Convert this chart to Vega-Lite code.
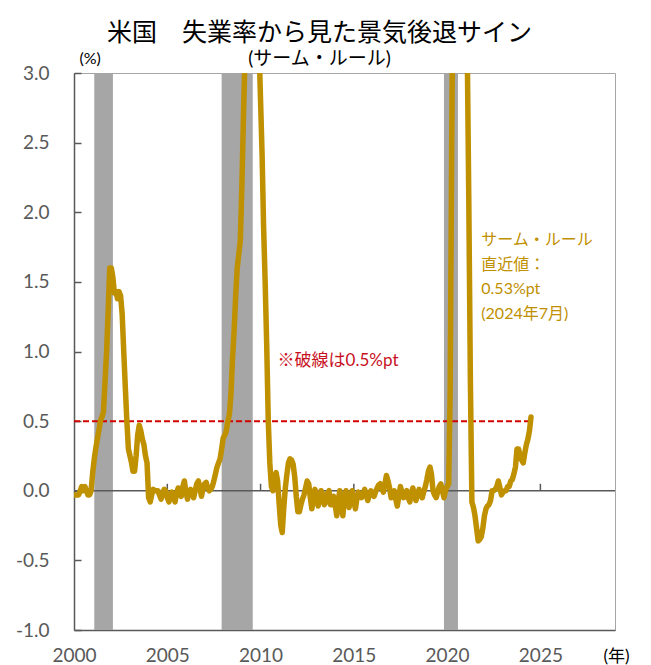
{
  "$schema": "https://vega.github.io/schema/vega-lite/v6.json",
  "autosize": {"type": "none"},
  "padding": {"left": 74, "top": 73, "right": 36, "bottom": 35},
  "width": 541,
  "height": 557,
  "background": "#ffffff",
  "config": {
    "view": {"stroke": "#a6a6a6", "strokeWidth": 1},
    "font": "Lato, Noto Sans CJK JP",
    "axis": {"grid": false, "domainColor": "#595959", "domainWidth": 1.5, "tickColor": "#595959", "labelColor": "#595959", "labelFont": "Lato, Noto Sans CJK JP", "labelFontSize": 19, "titleFont": "Lato, Noto Sans CJK JP", "titleFontWeight": "normal", "titleColor": "#000000"}
  },
  "title": {
    "text": "米国　失業率から見た景気後退サイン",
    "subtitle": "(サーム・ルール)",
    "anchor": "middle",
    "frame": "group",
    "dx": -25,
    "offset": -19,
    "font": "Noto Sans CJK JP",
    "fontSize": 25,
    "fontWeight": "normal",
    "color": "#000000",
    "subtitleFont": "Lato, Noto Sans CJK JP",
    "subtitleFontSize": 19,
    "subtitleColor": "#000000",
    "subtitlePadding": 4
  },
  "datasets": {
    "recessions": [
      {"start": "2001-02", "end": "2002-02"},
      {"start": "2007-12", "end": "2009-08"},
      {"start": "2019-11", "end": "2020-08"}
    ],
    "tickYears": [
      {"year": "2005-01"}, {"year": "2010-01"}, {"year": "2015-01"}, {"year": "2020-01"}, {"year": "2025-01"}
    ],
    "sahm": [
      {"m": "2000-01", "v": -0.03}, {"m": "2000-02", "v": -0.03}, {"m": "2000-03", "v": -0.03}, {"m": "2000-04", "v": -0.03},
      {"m": "2000-05", "v": 0.0}, {"m": "2000-06", "v": 0.03}, {"m": "2000-07", "v": 0.0}, {"m": "2000-08", "v": 0.03},
      {"m": "2000-09", "v": 0.0}, {"m": "2000-10", "v": -0.03}, {"m": "2000-11", "v": -0.03}, {"m": "2000-12", "v": 0.0},
      {"m": "2001-01", "v": 0.13}, {"m": "2001-02", "v": 0.23}, {"m": "2001-03", "v": 0.3}, {"m": "2001-04", "v": 0.37},
      {"m": "2001-05", "v": 0.43}, {"m": "2001-06", "v": 0.5}, {"m": "2001-07", "v": 0.53}, {"m": "2001-08", "v": 0.57},
      {"m": "2001-09", "v": 0.8}, {"m": "2001-10", "v": 1.0}, {"m": "2001-11", "v": 1.3}, {"m": "2001-12", "v": 1.6},
      {"m": "2002-01", "v": 1.6}, {"m": "2002-02", "v": 1.53}, {"m": "2002-03", "v": 1.42}, {"m": "2002-04", "v": 1.43},
      {"m": "2002-05", "v": 1.38}, {"m": "2002-06", "v": 1.43}, {"m": "2002-07", "v": 1.4}, {"m": "2002-08", "v": 1.27},
      {"m": "2002-09", "v": 1.0}, {"m": "2002-10", "v": 0.75}, {"m": "2002-11", "v": 0.5}, {"m": "2002-12", "v": 0.3},
      {"m": "2003-01", "v": 0.25}, {"m": "2003-02", "v": 0.2}, {"m": "2003-03", "v": 0.14}, {"m": "2003-04", "v": 0.14},
      {"m": "2003-05", "v": 0.25}, {"m": "2003-06", "v": 0.4}, {"m": "2003-07", "v": 0.47}, {"m": "2003-08", "v": 0.43},
      {"m": "2003-09", "v": 0.37}, {"m": "2003-10", "v": 0.33}, {"m": "2003-11", "v": 0.25}, {"m": "2003-12", "v": 0.2},
      {"m": "2004-01", "v": -0.05}, {"m": "2004-02", "v": -0.08}, {"m": "2004-03", "v": -0.03}, {"m": "2004-04", "v": 0.01},
      {"m": "2004-05", "v": 0.0}, {"m": "2004-06", "v": 0.0}, {"m": "2004-07", "v": 0.0}, {"m": "2004-08", "v": -0.03},
      {"m": "2004-09", "v": -0.06}, {"m": "2004-10", "v": -0.02}, {"m": "2004-11", "v": 0.01}, {"m": "2004-12", "v": 0.0},
      {"m": "2005-01", "v": -0.05}, {"m": "2005-02", "v": -0.08}, {"m": "2005-03", "v": -0.03}, {"m": "2005-04", "v": -0.01},
      {"m": "2005-05", "v": -0.05}, {"m": "2005-06", "v": -0.08}, {"m": "2005-07", "v": -0.02}, {"m": "2005-08", "v": 0.02},
      {"m": "2005-09", "v": -0.02}, {"m": "2005-10", "v": -0.04}, {"m": "2005-11", "v": 0.03}, {"m": "2005-12", "v": 0.07},
      {"m": "2006-01", "v": -0.01}, {"m": "2006-02", "v": -0.06}, {"m": "2006-03", "v": -0.01}, {"m": "2006-04", "v": 0.01},
      {"m": "2006-05", "v": -0.02}, {"m": "2006-06", "v": -0.05}, {"m": "2006-07", "v": 0.0}, {"m": "2006-08", "v": 0.05},
      {"m": "2006-09", "v": 0.07}, {"m": "2006-10", "v": 0.02}, {"m": "2006-11", "v": -0.04}, {"m": "2006-12", "v": 0.02},
      {"m": "2007-01", "v": 0.05}, {"m": "2007-02", "v": 0.06}, {"m": "2007-03", "v": 0.02}, {"m": "2007-04", "v": 0.0},
      {"m": "2007-05", "v": 0.01}, {"m": "2007-06", "v": 0.03}, {"m": "2007-07", "v": 0.07}, {"m": "2007-08", "v": 0.12},
      {"m": "2007-09", "v": 0.17}, {"m": "2007-10", "v": 0.2}, {"m": "2007-11", "v": 0.23}, {"m": "2007-12", "v": 0.3},
      {"m": "2008-01", "v": 0.38}, {"m": "2008-02", "v": 0.4}, {"m": "2008-03", "v": 0.43}, {"m": "2008-04", "v": 0.5},
      {"m": "2008-05", "v": 0.55}, {"m": "2008-06", "v": 0.7}, {"m": "2008-07", "v": 0.95}, {"m": "2008-08", "v": 1.15},
      {"m": "2008-09", "v": 1.4}, {"m": "2008-10", "v": 1.6}, {"m": "2008-11", "v": 1.7}, {"m": "2008-12", "v": 1.8},
      {"m": "2009-01", "v": 2.2}, {"m": "2009-02", "v": 2.7}, {"m": "2009-03", "v": 3.1}, {"m": "2009-04", "v": 3.4},
      {"m": "2009-05", "v": 3.7}, {"m": "2009-06", "v": 3.9}, {"m": "2009-07", "v": 4.0}, {"m": "2009-08", "v": 4.1},
      {"m": "2009-09", "v": 4.1}, {"m": "2009-10", "v": 3.9}, {"m": "2009-11", "v": 3.5}, {"m": "2009-12", "v": 3.2},
      {"m": "2010-01", "v": 2.8}, {"m": "2010-02", "v": 2.4}, {"m": "2010-03", "v": 1.9}, {"m": "2010-04", "v": 1.5},
      {"m": "2010-05", "v": 1.05}, {"m": "2010-06", "v": 0.5}, {"m": "2010-07", "v": 0.2}, {"m": "2010-08", "v": 0.03},
      {"m": "2010-09", "v": 0.0}, {"m": "2010-10", "v": 0.1}, {"m": "2010-11", "v": 0.13}, {"m": "2010-12", "v": 0.07},
      {"m": "2011-01", "v": -0.1}, {"m": "2011-02", "v": -0.25}, {"m": "2011-03", "v": -0.3}, {"m": "2011-04", "v": -0.12},
      {"m": "2011-05", "v": 0.02}, {"m": "2011-06", "v": 0.12}, {"m": "2011-07", "v": 0.2}, {"m": "2011-08", "v": 0.23},
      {"m": "2011-09", "v": 0.22}, {"m": "2011-10", "v": 0.19}, {"m": "2011-11", "v": 0.1}, {"m": "2011-12", "v": -0.04},
      {"m": "2012-01", "v": -0.15}, {"m": "2012-02", "v": -0.15}, {"m": "2012-03", "v": -0.1}, {"m": "2012-04", "v": -0.06},
      {"m": "2012-05", "v": -0.03}, {"m": "2012-06", "v": 0.02}, {"m": "2012-07", "v": 0.07}, {"m": "2012-08", "v": 0.05},
      {"m": "2012-09", "v": -0.05}, {"m": "2012-10", "v": -0.13}, {"m": "2012-11", "v": -0.05}, {"m": "2012-12", "v": 0.01},
      {"m": "2013-01", "v": -0.05}, {"m": "2013-02", "v": -0.11}, {"m": "2013-03", "v": -0.06}, {"m": "2013-04", "v": 0.0},
      {"m": "2013-05", "v": -0.03}, {"m": "2013-06", "v": -0.1}, {"m": "2013-07", "v": -0.08}, {"m": "2013-08", "v": -0.02},
      {"m": "2013-09", "v": 0.0}, {"m": "2013-10", "v": -0.1}, {"m": "2013-11", "v": -0.1}, {"m": "2013-12", "v": -0.04},
      {"m": "2014-01", "v": -0.1}, {"m": "2014-02", "v": -0.18}, {"m": "2014-03", "v": -0.08}, {"m": "2014-04", "v": 0.0},
      {"m": "2014-05", "v": -0.1}, {"m": "2014-06", "v": -0.18}, {"m": "2014-07", "v": -0.05}, {"m": "2014-08", "v": 0.0},
      {"m": "2014-09", "v": -0.09}, {"m": "2014-10", "v": -0.12}, {"m": "2014-11", "v": -0.04}, {"m": "2014-12", "v": 0.0},
      {"m": "2015-01", "v": -0.07}, {"m": "2015-02", "v": -0.13}, {"m": "2015-03", "v": -0.06}, {"m": "2015-04", "v": -0.01},
      {"m": "2015-05", "v": -0.03}, {"m": "2015-06", "v": -0.05}, {"m": "2015-07", "v": -0.02}, {"m": "2015-08", "v": 0.01},
      {"m": "2015-09", "v": -0.03}, {"m": "2015-10", "v": -0.07}, {"m": "2015-11", "v": -0.03}, {"m": "2015-12", "v": 0.0},
      {"m": "2016-01", "v": -0.02}, {"m": "2016-02", "v": -0.04}, {"m": "2016-03", "v": -0.01}, {"m": "2016-04", "v": 0.02},
      {"m": "2016-05", "v": 0.04}, {"m": "2016-06", "v": 0.05}, {"m": "2016-07", "v": 0.02}, {"m": "2016-08", "v": -0.01},
      {"m": "2016-09", "v": 0.05}, {"m": "2016-10", "v": 0.11}, {"m": "2016-11", "v": 0.07}, {"m": "2016-12", "v": 0.02},
      {"m": "2017-01", "v": -0.05}, {"m": "2017-02", "v": -0.02}, {"m": "2017-03", "v": 0.0}, {"m": "2017-04", "v": -0.06},
      {"m": "2017-05", "v": -0.11}, {"m": "2017-06", "v": -0.04}, {"m": "2017-07", "v": 0.03}, {"m": "2017-08", "v": -0.01},
      {"m": "2017-09", "v": -0.05}, {"m": "2017-10", "v": -0.02}, {"m": "2017-11", "v": 0.0}, {"m": "2017-12", "v": -0.05},
      {"m": "2018-01", "v": -0.08}, {"m": "2018-02", "v": -0.02}, {"m": "2018-03", "v": 0.02}, {"m": "2018-04", "v": -0.03},
      {"m": "2018-05", "v": -0.07}, {"m": "2018-06", "v": -0.03}, {"m": "2018-07", "v": 0.01}, {"m": "2018-08", "v": -0.02},
      {"m": "2018-09", "v": -0.05}, {"m": "2018-10", "v": -0.01}, {"m": "2018-11", "v": 0.03}, {"m": "2018-12", "v": 0.08},
      {"m": "2019-01", "v": 0.14}, {"m": "2019-02", "v": 0.17}, {"m": "2019-03", "v": 0.12}, {"m": "2019-04", "v": 0.0},
      {"m": "2019-05", "v": -0.03}, {"m": "2019-06", "v": -0.05}, {"m": "2019-07", "v": -0.01}, {"m": "2019-08", "v": 0.03},
      {"m": "2019-09", "v": 0.05}, {"m": "2019-10", "v": 0.0}, {"m": "2019-11", "v": -0.05}, {"m": "2019-12", "v": 0.0},
      {"m": "2020-01", "v": 0.03}, {"m": "2020-02", "v": 0.05}, {"m": "2020-03", "v": 0.7}, {"m": "2020-04", "v": 2.5},
      {"m": "2020-05", "v": 4.0}, {"m": "2020-06", "v": 6.0}, {"m": "2020-07", "v": 7.5}, {"m": "2020-08", "v": 8.5},
      {"m": "2020-09", "v": 9.0}, {"m": "2020-10", "v": 8.5}, {"m": "2020-11", "v": 7.5}, {"m": "2020-12", "v": 6.0},
      {"m": "2021-01", "v": 4.5}, {"m": "2021-02", "v": 3.1}, {"m": "2021-03", "v": 2.1}, {"m": "2021-04", "v": 0.8},
      {"m": "2021-05", "v": -0.08}, {"m": "2021-06", "v": -0.12}, {"m": "2021-07", "v": -0.18}, {"m": "2021-08", "v": -0.27},
      {"m": "2021-09", "v": -0.36}, {"m": "2021-10", "v": -0.35}, {"m": "2021-11", "v": -0.33}, {"m": "2021-12", "v": -0.27},
      {"m": "2022-01", "v": -0.18}, {"m": "2022-02", "v": -0.13}, {"m": "2022-03", "v": -0.11}, {"m": "2022-04", "v": -0.1},
      {"m": "2022-05", "v": -0.07}, {"m": "2022-06", "v": 0.0}, {"m": "2022-07", "v": 0.0}, {"m": "2022-08", "v": 0.01},
      {"m": "2022-09", "v": 0.03}, {"m": "2022-10", "v": 0.07}, {"m": "2022-11", "v": 0.02}, {"m": "2022-12", "v": -0.03},
      {"m": "2023-01", "v": -0.01}, {"m": "2023-02", "v": 0.0}, {"m": "2023-03", "v": 0.0}, {"m": "2023-04", "v": 0.03},
      {"m": "2023-05", "v": 0.03}, {"m": "2023-06", "v": 0.07}, {"m": "2023-07", "v": 0.08}, {"m": "2023-08", "v": 0.12},
      {"m": "2023-09", "v": 0.17}, {"m": "2023-10", "v": 0.3}, {"m": "2023-11", "v": 0.3}, {"m": "2023-12", "v": 0.25},
      {"m": "2024-01", "v": 0.22}, {"m": "2024-02", "v": 0.2}, {"m": "2024-03", "v": 0.27}, {"m": "2024-04", "v": 0.33},
      {"m": "2024-05", "v": 0.37}, {"m": "2024-06", "v": 0.43}, {"m": "2024-07", "v": 0.53}
    ]
  },
  "encoding": {
    "x": {
      "type": "temporal",
      "scale": {"type": "utc", "domain": [{"year": 2000, "utc": true}, {"year": 2029, "utc": true}]},
      "axis": {
        "title": "(年)",
        "titleFontSize": 17,
        "titleAnchor": "start",
        "titleAlign": "left",
        "titleBaseline": "middle",
        "titleX": 529,
        "titleY": 26,
        "values": [
          {"year": 2000, "utc": true}, {"year": 2005, "utc": true}, {"year": 2010, "utc": true},
          {"year": 2015, "utc": true}, {"year": 2020, "utc": true}, {"year": 2025, "utc": true}
        ],
        "format": "%Y",
        "ticks": false,
        "labelPadding": 16,
        "labelFlush": false
      }
    },
    "y": {
      "type": "quantitative",
      "scale": {"domain": [-1, 3], "nice": false, "zero": false},
      "axis": {
        "title": "(%)",
        "titleFontSize": 16,
        "titleAngle": 0,
        "titleAlign": "left",
        "titleBaseline": "middle",
        "titleX": 5,
        "titleY": -15,
        "values": [-1, -0.5, 0, 0.5, 1, 1.5, 2, 2.5, 3],
        "format": ".1f",
        "labelExpr": "replace(datum.label, '\u2212', '-')",
        "tickSize": -7,
        "tickWidth": 1.5,
        "labelPadding": 32,
        "labelFlush": false
      }
    }
  },
  "layer": [
    {
      "data": {"name": "recessions"},
      "mark": {"type": "rect", "color": "#a6a6a6"},
      "encoding": {
        "x": {"field": "start", "type": "temporal"},
        "x2": {"field": "end"}
      }
    },
    {
      "data": {"values": [{}]},
      "mark": {"type": "rule", "color": "#595959", "strokeWidth": 1.5},
      "encoding": {"y": {"datum": 0}}
    },
    {
      "data": {"name": "tickYears"},
      "mark": {"type": "rule", "color": "#595959", "strokeWidth": 1.5},
      "encoding": {
        "x": {"field": "year", "type": "temporal"},
        "y": {"datum": 0},
        "y2": {"datum": 0.05}
      }
    },
    {
      "data": {"values": [{}]},
      "mark": {"type": "rule", "color": "#d40000", "strokeWidth": 2, "strokeDash": [6, 3]},
      "encoding": {
        "x": {"datum": {"year": 2000, "month": 1, "utc": true}, "type": "temporal"},
        "x2": {"datum": {"year": 2024, "month": 7, "utc": true}},
        "y": {"datum": 0.5}
      }
    },
    {
      "data": {"name": "sahm"},
      "mark": {"type": "line", "color": "#bf9000", "strokeWidth": 5.5, "strokeJoin": "round", "strokeCap": "round", "clip": true},
      "encoding": {
        "x": {"field": "m", "type": "temporal"},
        "y": {"field": "v", "type": "quantitative"}
      }
    },
    {
      "data": {"values": [{}]},
      "mark": {"type": "text", "align": "left", "baseline": "middle", "color": "#c8101e", "fontSize": 17, "font": "Lato, Noto Sans CJK JP"},
      "encoding": {
        "x": {"datum": {"year": 2010, "month": 12, "utc": true}, "type": "temporal"},
        "y": {"datum": 0.93},
        "text": {"value": "※破線は0.5%pt"}
      }
    },
    {
      "data": {"values": [{}]},
      "mark": {"type": "text", "align": "left", "baseline": "middle", "color": "#bf9000", "fontSize": 16, "lineHeight": 24.5, "font": "Lato, Noto Sans CJK JP"},
      "encoding": {
        "x": {"datum": {"year": 2021, "month": 11, "utc": true}, "type": "temporal"},
        "y": {"datum": 1.8},
        "text": {"value": ["サーム・ルール", "直近値：", "0.53%pt", "(2024年7月)"]}
      }
    }
  ]
}
